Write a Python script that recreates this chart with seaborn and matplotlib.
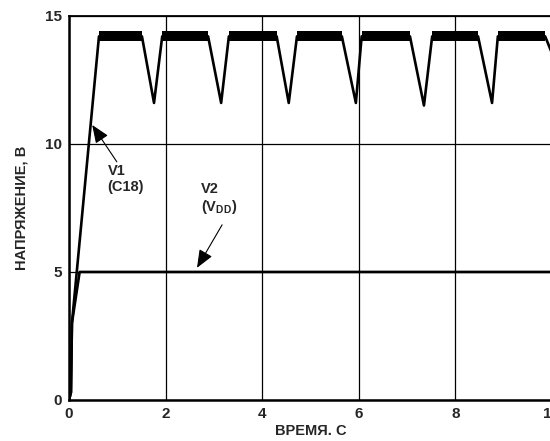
import numpy as np
import pandas as pd
import matplotlib
matplotlib.use("Agg")
import matplotlib.pyplot as plt
import seaborn as sns

# V1 (C18) key points
t_v1 = [0.0, 0.04, 0.06, 0.62, 1.51, 1.76, 1.93, 2.88, 3.15, 3.31, 4.30, 4.55, 4.72,
        5.65, 5.94, 6.06, 7.06, 7.35, 7.52, 8.47, 8.76, 8.88, 9.86, 10.2]
v1 = [0.0, 0.3, 3.0, 14.2, 14.2, 11.6, 14.2, 14.2, 11.6, 14.2, 14.2, 11.6, 14.2,
      14.2, 11.6, 14.2, 14.2, 11.5, 14.2, 14.2, 11.6, 14.2, 14.2, 12.6]
plateau_level = 14.2

# V2 (VDD)
t_v2 = [0.0, 0.04, 0.06, 0.22, 10.5]
v2 = [0.0, 0.3, 3.0, 5.0, 5.0]

x_ticks = [0, 2, 4, 6, 8, 10]
y_ticks = [0, 5, 10, 15]

sns.set_style("white")
plt.rcParams["font.family"] = ["Liberation Sans", "DejaVu Sans"]
plt.rcParams["mathtext.fontset"] = "custom"
plt.rcParams["mathtext.rm"] = "Liberation Sans:bold"
plt.rcParams["mathtext.bf"] = "Liberation Sans:bold"

fig = plt.figure(figsize=(5.5, 4.41), dpi=100)
ax = fig.add_axes([0.1255, 0.093, 0.878, 0.871])

df1 = pd.DataFrame({"t": t_v1, "v": v1})
df2 = pd.DataFrame({"t": t_v2, "v": v2})

ax.grid(True, color="black", linewidth=0.9)
ax.set_axisbelow(True)

sns.lineplot(data=df2, x="t", y="v", color="black", linewidth=1.9,
             estimator=None, sort=False, ax=ax, zorder=3)
sns.lineplot(data=df1, x="t", y="v", color="black", linewidth=1.9,
             estimator=None, sort=False, ax=ax, zorder=4)

# noisy plateau band of V1
for i in range(len(t_v1) - 1):
    if v1[i] == plateau_level and v1[i + 1] == plateau_level:
        ax.plot([t_v1[i], t_v1[i + 1]], [v1[i], v1[i + 1]], color="black",
                linewidth=7.2, solid_capstyle="butt", zorder=4)

ax.set_xlim(0, 10)
ax.set_ylim(0, 15)
ax.set_xticks(x_ticks)
ax.set_yticks(y_ticks)
ax.tick_params(length=0, pad=5, labelsize=11)
for lab in ax.get_xticklabels() + ax.get_yticklabels():
    lab.set_fontweight("bold")

for side in ["left", "bottom"]:
    ax.spines[side].set_linewidth(1.8)
    ax.spines[side].set_color("black")
ax.spines["top"].set_linewidth(1.3)
ax.spines["top"].set_color("black")
ax.spines["right"].set_visible(False)

ax.set_xlabel("ВРЕМЯ. С", fontsize=10.5, fontweight="bold", labelpad=2)
ax.set_ylabel("НАПРЯЖЕНИЕ, В", fontsize=10.5, fontweight="bold", labelpad=12)

arrow = dict(arrowstyle="-|>,head_length=1.1,head_width=0.45", color="black",
             linewidth=0.8, shrinkA=0, shrinkB=0)
ax.annotate("", xy=(0.48, 10.74), xytext=(0.99, 9.3), arrowprops=arrow, zorder=5)
ax.text(0.80, 9.2, "V1\n(C18)", fontsize=10.5, fontweight="bold",
        ha="left", va="top", linespacing=1.15)

ax.annotate("", xy=(2.65, 5.16), xytext=(3.17, 6.84), arrowprops=arrow, zorder=5)
ax.text(2.74, 8.5, "V2\n(V$_{\\mathbf{DD}}$)", fontsize=10.5, fontweight="bold",
        ha="left", va="top", linespacing=1.15)

fig.savefig("out.png", dpi=100)
